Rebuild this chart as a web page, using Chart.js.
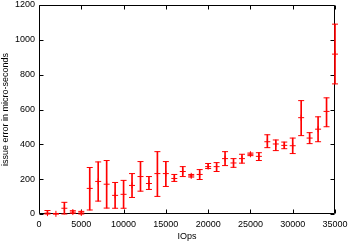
<!DOCTYPE html>
<html>
<head>
<meta charset="utf-8">
<script src="https://cdn.jsdelivr.net/npm/chart.js@4/dist/chart.umd.min.js"></script>
<style>
  html, body { margin: 0; padding: 0; background: #fff; }
</style>
</head>
<body>
<canvas id="errChart" width="348" height="242"></canvas>
<script>
// IOps measured, mean issue error and its min / max (micro-seconds)
const iops = [1000, 2000, 3000, 4000, 5000, 6000, 7000, 8000, 9000, 10000,
              11000, 12000, 13000, 14000, 15000, 16000, 17000, 18000, 19000, 20000,
              21000, 22000, 23000, 24000, 25000, 26000, 27000, 28000, 29000, 30000,
              31000, 32000, 33000, 34000, 35000];
const errMean = [5, 1, 33, 11, 6, 147, 187, 171, 107, 113,
                 164, 215, 175, 232, 232, 204, 244, 219, 227, 272,
                 272, 318, 293, 318, 343, 331, 415, 402, 394, 392,
                 553, 436, 487, 589, 918];
const errLow = [0, 0, 0, 4, 0, 23, 74, 34, 33, 33,
                95, 131, 141, 101, 158, 187, 215, 212, 198, 261,
                244, 278, 268, 292, 335, 307, 381, 364, 375, 347,
                450, 404, 415, 501, 747];
const errHigh = [20, 3, 67, 19, 15, 267, 299, 307, 181, 193,
                 232, 301, 215, 358, 301, 227, 272, 227, 255, 290,
                 295, 358, 318, 343, 350, 352, 455, 425, 413, 436,
                 651, 467, 558, 667, 1090];

const xTickVals = [0, 5000, 10000, 15000, 20000, 25000, 30000, 35000];
const yTickVals = [0, 200, 400, 600, 800, 1000, 1200];

const RED = '#ff0000';
const FONT = { family: "'Liberation Sans', Arial, sans-serif", size: 9 };

// gnuplot style box with ticks pointing inwards
const frameTicks = {
    id: 'frameTicks',
    beforeDatasetsDraw(chart) {
        const { ctx, chartArea: a, scales } = chart;
        const L = Math.round(a.left) + 0.5, R = Math.round(a.right) - 0.5;
        const T = Math.round(a.top) + 0.5, B = Math.round(a.bottom) - 0.5;
        const len = 4;
        ctx.save();
        ctx.strokeStyle = '#000';
        ctx.lineWidth = 1;
        ctx.beginPath();
        ctx.rect(L, T, R - L, B - T);
        xTickVals.forEach(v => {
            const px = Math.round(scales.x.getPixelForValue(v)) + 0.5;
            ctx.moveTo(px, B); ctx.lineTo(px, B - len);
            ctx.moveTo(px, T); ctx.lineTo(px, T + len);
        });
        yTickVals.forEach(v => {
            const py = Math.round(scales.y.getPixelForValue(v)) + 0.5;
            ctx.moveTo(L, py); ctx.lineTo(L + len, py);
            ctx.moveTo(R, py); ctx.lineTo(R - len, py);
        });
        ctx.stroke();
        ctx.restore();
    }
};

const ctx = document.getElementById('errChart').getContext('2d');
new Chart(ctx, {
    type: 'bar',
    data: {
        datasets: [
            {
                // vertical error bar
                type: 'bar',
                data: iops.map((v, i) => ({ x: v, y: [errLow[i], errHigh[i]] })),
                backgroundColor: RED,
                borderWidth: 0,
                barThickness: 1,
                clip: false
            },
            {
                type: 'scatter',
                data: iops.map((v, i) => ({ x: v, y: errLow[i] })),
                pointStyle: 'line', pointRadius: 3,
                borderColor: RED, borderWidth: 1, clip: false
            },
            {
                type: 'scatter',
                data: iops.map((v, i) => ({ x: v, y: errHigh[i] })),
                pointStyle: 'line', pointRadius: 3,
                borderColor: RED, borderWidth: 1, clip: false
            },
            {
                type: 'scatter',
                data: iops.map((v, i) => ({ x: v, y: errMean[i] })),
                pointStyle: 'cross', pointRadius: 3,
                borderColor: RED, borderWidth: 1, clip: false
            }
        ]
    },
    options: {
        responsive: false,
        animation: false,
        events: [],
        layout: { padding: { left: 0, right: 13, top: 4, bottom: 0 } },
        plugins: { legend: { display: false }, tooltip: { enabled: false } },
        scales: {
            x: {
                type: 'linear',
                min: 0, max: 35000,
                offset: false,
                grid: { display: false, drawTicks: false, offset: false },
                border: { display: false },
                afterBuildTicks: s => { s.ticks = xTickVals.map(v => ({ value: v })); },
                afterFit: s => { s.height = 28; s.paddingLeft = 0; s.paddingRight = 0; },
                ticks: {
                    color: '#000', font: FONT, padding: 5,
                    maxRotation: 0, autoSkip: false,
                    callback: v => String(v)
                },
                title: { display: true, text: 'IOps', color: '#000', font: FONT, padding: 0 }
            },
            y: {
                min: 0, max: 1200,
                grid: { display: false, drawTicks: false },
                border: { display: false },
                afterBuildTicks: s => { s.ticks = yTickVals.map(v => ({ value: v })); },
                afterFit: s => { s.width = 39; s.paddingTop = 0; s.paddingBottom = 0; },
                ticks: { color: '#000', font: FONT, padding: 4, callback: v => String(v) },
                title: { display: true, text: 'issue error in micro-seconds', color: '#000', font: FONT, padding: 0 }
            }
        }
    },
    plugins: [frameTicks]
});
</script>
</body>
</html>
